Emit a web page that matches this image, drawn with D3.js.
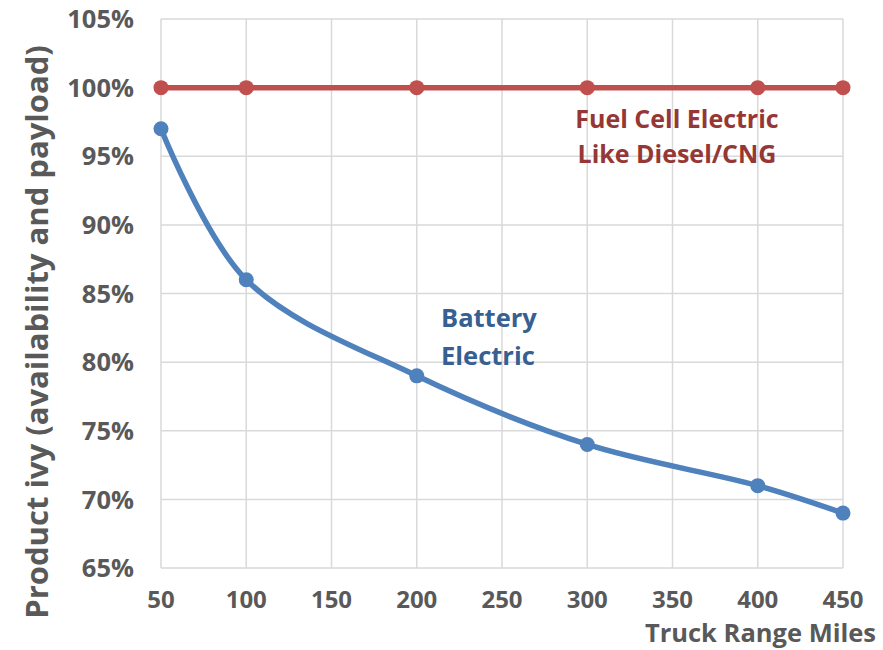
<!DOCTYPE html>
<html>
<head>
<meta charset="utf-8">
<script src="https://cdn.jsdelivr.net/npm/d3@7"></script>
<style>
  body { margin: 0; background: #fff; }
  text { font-family: "Open Sans", "Noto Sans", sans-serif; font-weight: bold; }
</style>
</head>
<body>
<script>
// chart values
var rangeMiles = [50, 100, 200, 300, 400, 450];
var batteryElectric = [97, 86, 79, 74, 71, 69];
var fuelCellElectric = [100, 100, 100, 100, 100, 100];
var xTicks = [50, 100, 150, 200, 250, 300, 350, 400, 450];
var yTicks = [65, 70, 75, 80, 85, 90, 95, 100, 105];

var width = 883, height = 650;
var margin = {top: 19, right: 40, bottom: 82, left: 161};

var svg = d3.select("body").append("svg")
    .attr("width", width)
    .attr("height", height);

var x = d3.scaleLinear().domain([50, 450]).range([margin.left, width - margin.right]);
var y = d3.scaleLinear().domain([65, 105]).range([height - margin.bottom, margin.top]);

// grid
svg.append("g")
    .attr("stroke", "#d9d9d9")
    .attr("stroke-width", 1.5)
    .selectAll("line.v")
    .data(xTicks)
    .enter().append("line")
    .attr("x1", function(d) { return x(d); })
    .attr("x2", function(d) { return x(d); })
    .attr("y1", y(65))
    .attr("y2", y(105));

svg.append("g")
    .attr("stroke", "#d9d9d9")
    .attr("stroke-width", 1.5)
    .selectAll("line.h")
    .data(yTicks)
    .enter().append("line")
    .attr("y1", function(d) { return y(d); })
    .attr("y2", function(d) { return y(d); })
    .attr("x1", x(50))
    .attr("x2", x(450));

// tick labels
svg.append("g")
    .selectAll("text")
    .data(yTicks)
    .enter().append("text")
    .attr("x", margin.left - 27)
    .attr("y", function(d) { return y(d); })
    .attr("dy", "0.36em")
    .attr("text-anchor", "end")
    .attr("font-size", 25.5)
    .attr("fill", "#595959")
    .text(function(d) { return d + "%"; });

svg.append("g")
    .selectAll("text")
    .data(xTicks)
    .enter().append("text")
    .attr("x", function(d) { return x(d); })
    .attr("y", 608)
    .attr("text-anchor", "middle")
    .attr("font-size", 24)
    .attr("fill", "#595959")
    .text(function(d) { return d; });

// axis titles
svg.append("text")
    .attr("x", 876)
    .attr("y", 642)
    .attr("text-anchor", "end")
    .attr("font-size", 25.5)
    .attr("fill", "#595959")
    .text("Truck Range Miles");

svg.append("text")
    .attr("transform", "translate(48," + 332 + ")rotate(-90)")
    .attr("text-anchor", "middle")
    .attr("font-size", 31)
    .attr("fill", "#595959")
    .text("Product ivy (availability and payload)");

// lines
var line = d3.line()
    .x(function(d) { return x(d[0]); })
    .y(function(d) { return y(d[1]); })
    .curve(d3.curveCatmullRom.alpha(0.5));

var series = [
  {values: fuelCellElectric, color: "#c0504d"},
  {values: batteryElectric, color: "#4f81bd"}
];

series.forEach(function(s) {
  var pts = rangeMiles.map(function(m, i) { return [m, s.values[i]]; });
  svg.append("path")
      .datum(pts)
      .attr("fill", "none")
      .attr("stroke", s.color)
      .attr("stroke-width", 5.5)
      .attr("stroke-linejoin", "round")
      .attr("d", line);
  svg.append("g")
      .attr("fill", s.color)
      .selectAll("circle")
      .data(pts)
      .enter().append("circle")
      .attr("cx", function(d) { return x(d[0]); })
      .attr("cy", function(d) { return y(d[1]); })
      .attr("r", 7.5);
});

// series labels
var fcLabel = svg.append("text")
    .attr("text-anchor", "middle")
    .attr("font-size", 25)
    .attr("fill", "#953735");
fcLabel.append("tspan").attr("x", 677).attr("y", 128).text("Fuel Cell Electric");
fcLabel.append("tspan").attr("x", 677).attr("y", 163).text("Like Diesel/CNG");

var beLabel = svg.append("text")
    .attr("text-anchor", "start")
    .attr("font-size", 25.5)
    .attr("fill", "#376092");
beLabel.append("tspan").attr("x", 441).attr("y", 327).text("Battery");
beLabel.append("tspan").attr("x", 441).attr("y", 365).text("Electric");
</script>
</body>
</html>
